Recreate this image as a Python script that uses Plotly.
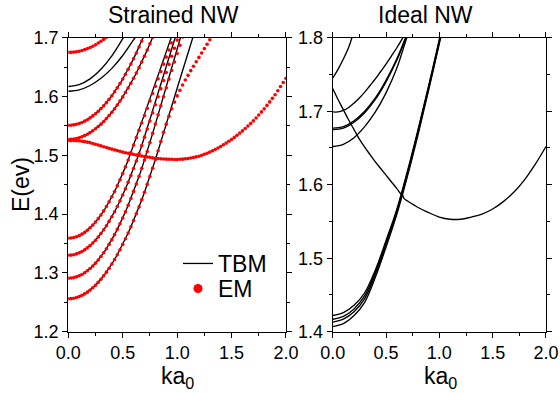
import plotly.graph_objects as go

# ---------------- data: Strained NW (left panel) ----------------
# common k grid for the EM (effective-mass) samples
K_EM = [0.0, 0.025, 0.05, 0.075, 0.1, 0.125, 0.15, 0.175, 0.2, 0.225,
        0.25, 0.275, 0.3, 0.325, 0.35, 0.375, 0.4, 0.425, 0.45, 0.475,
        0.5, 0.525, 0.55, 0.575, 0.6, 0.625, 0.65, 0.675, 0.7, 0.725,
        0.75, 0.775, 0.8, 0.825, 0.85, 0.875, 0.9, 0.925, 0.95, 0.975,
        1.0, 1.025, 1.05, 1.075, 1.1, 1.125, 1.15, 1.175, 1.2, 1.225,
        1.25, 1.275, 1.3, 1.325, 1.35, 1.375, 1.4, 1.425, 1.45, 1.475,
        1.5, 1.525, 1.55, 1.575, 1.6, 1.625, 1.65, 1.675, 1.7, 1.725,
        1.75, 1.775, 1.8, 1.825, 1.85, 1.875, 1.9, 1.925, 1.95, 1.975, 2.0]

E_A1_EM = [1.2560, 1.2562, 1.2569, 1.2581, 1.2597, 1.2618, 1.2643, 1.2673, 1.2708, 1.2747,
           1.2791, 1.2840, 1.2893, 1.2951, 1.3013, 1.3080, 1.3152, 1.3228, 1.3309, 1.3395,
           1.3485, 1.3580, 1.3679, 1.3783, 1.3892, 1.4005, 1.4123, 1.4246, 1.4373, 1.4505,
           1.4641, 1.4782, 1.4928, 1.5078, 1.5233, 1.5393, 1.5530, 1.5665, 1.5790, 1.5905,
           1.6010, 1.6105, 1.6195, 1.6280, 1.6360, 1.6440, 1.6515, 1.6590, 1.6665, 1.6740,
           1.6815, 1.6890, 1.6965, 1.7040]
E_A2_EM = [1.2910, 1.2913, 1.2920, 1.2933, 1.2951, 1.2974, 1.3002, 1.3036, 1.3074, 1.3118,
           1.3166, 1.3220, 1.3279, 1.3343, 1.3412, 1.3487, 1.3566, 1.3651, 1.3740, 1.3835,
           1.3935, 1.4040, 1.4150, 1.4266, 1.4386, 1.4512, 1.4642, 1.4778, 1.4919, 1.5065,
           1.5216, 1.5373, 1.5531, 1.5688, 1.5843, 1.5996, 1.6147, 1.6296, 1.6443, 1.6588,
           1.6731, 1.6872, 1.7011]
E_A3_EM = [1.3300, 1.3303, 1.3310, 1.3323, 1.3341, 1.3364, 1.3392, 1.3426, 1.3464, 1.3508,
           1.3556, 1.3610, 1.3669, 1.3733, 1.3802, 1.3877, 1.3956, 1.4041, 1.4130, 1.4225,
           1.4325, 1.4430, 1.4540, 1.4656, 1.4776, 1.4902, 1.5032, 1.5168, 1.5309, 1.5447,
           1.5584, 1.5722, 1.5859, 1.5997, 1.6134, 1.6272, 1.6409, 1.6547, 1.6684, 1.6822,
           1.6959, 1.7097]
E_A4_EM = [1.3590, 1.3593, 1.3601, 1.3615, 1.3634, 1.3659, 1.3689, 1.3725, 1.3766, 1.3813,
           1.3865, 1.3923, 1.3986, 1.4055, 1.4129, 1.4209, 1.4294, 1.4385, 1.4481, 1.4583,
           1.4690, 1.4803, 1.4921, 1.5045, 1.5174, 1.5300, 1.5425, 1.5550, 1.5675, 1.5800,
           1.5925, 1.6050, 1.6175, 1.6300, 1.6425, 1.6550, 1.6670, 1.6790, 1.6910, 1.7030]
E_B1_EM = [1.5510, 1.5512, 1.5518, 1.5528, 1.5542, 1.5559, 1.5581, 1.5606, 1.5636, 1.5670,
           1.5707, 1.5748, 1.5794, 1.5843, 1.5896, 1.5953, 1.6014, 1.6079, 1.6148, 1.6221,
           1.6298, 1.6378, 1.6463, 1.6552, 1.6644, 1.6741, 1.6841, 1.6945, 1.7054]
E_B2_EM = [1.5270, 1.5272, 1.5277, 1.5286, 1.5299, 1.5315, 1.5335, 1.5359, 1.5386, 1.5416,
           1.5451, 1.5489, 1.5530, 1.5575, 1.5624, 1.5676, 1.5732, 1.5792, 1.5855, 1.5922,
           1.5993, 1.6067, 1.6144, 1.6226, 1.6310, 1.6399, 1.6491, 1.6587, 1.6686, 1.6789,
           1.6896, 1.7006]
E_C_EM = [1.5250, 1.5250, 1.5250, 1.5250, 1.5247, 1.5240, 1.5232, 1.5224, 1.5215, 1.5202,
          1.5188, 1.5174, 1.5160, 1.5146, 1.5132, 1.5118, 1.5105, 1.5092, 1.5080, 1.5067,
          1.5055, 1.5044, 1.5034, 1.5024, 1.5015, 1.5006, 1.4997, 1.4988, 1.4980, 1.4972,
          1.4965, 1.4957, 1.4950, 1.4946, 1.4942, 1.4938, 1.4935, 1.4933, 1.4931, 1.4930,
          1.4930, 1.4932, 1.4935, 1.4940, 1.4945, 1.4953, 1.4963, 1.4974, 1.4985, 1.5001,
          1.5018, 1.5036, 1.5055, 1.5077, 1.5100, 1.5125, 1.5150, 1.5179, 1.5208, 1.5239,
          1.5270, 1.5305, 1.5341, 1.5378, 1.5415, 1.5456, 1.5498, 1.5541, 1.5585, 1.5635,
          1.5686, 1.5738, 1.5790, 1.5849, 1.5908, 1.5969, 1.6030, 1.6099, 1.6169, 1.6239,
          1.6310]
E_D_EM = [1.6750, 1.6751, 1.6755, 1.6762, 1.6771, 1.6783, 1.6797, 1.6814, 1.6834, 1.6856,
          1.6881, 1.6909, 1.6939, 1.6972, 1.7007]

# TBM (tight-binding) lines: shared with EM at low energy, own upper tails
A1_TBM_SHARED, K_A1_TBM_TAIL, E_A1_TBM_TAIL = 36, [0.9, 1.0, 1.1, 1.15], [1.554, 1.614, 1.674, 1.704]
A2_TBM_SHARED, K_A2_TBM_TAIL, E_A2_TBM_TAIL = 32, [0.8, 0.9, 1.0, 1.03], [1.553, 1.617, 1.681, 1.700]
A3_TBM_SHARED, K_A3_TBM_TAIL, E_A3_TBM_TAIL = 29, [0.8, 0.9, 1.0], [1.591, 1.651, 1.711]
A4_TBM_SHARED, K_A4_TBM_TAIL, E_A4_TBM_TAIL = 25, [0.7, 0.8, 0.9, 0.95], [1.570, 1.623, 1.676, 1.7025]
K_G1_TBM = [0.0, 0.1, 0.2, 0.3, 0.4, 0.5, 0.6, 0.62]
E_G1_TBM = [1.609, 1.6114, 1.6187, 1.6309, 1.6479, 1.6698, 1.6965, 1.7024]
K_G2_TBM = [0.0, 0.1, 0.2, 0.3, 0.4, 0.5, 0.52]
E_G2_TBM = [1.617, 1.6203, 1.630, 1.6463, 1.669, 1.6983, 1.705]

# ---------------- data: Ideal NW (right panel), TBM only ----------------
K_R = [0.0, 0.1, 0.2, 0.3, 0.4, 0.5, 0.6, 0.7, 0.8, 0.9, 1.0, 1.02]
E_R1 = [1.407, 1.411, 1.422, 1.440, 1.474, 1.515, 1.559, 1.611, 1.668, 1.729, 1.792, 1.805]
E_R2 = [1.413, 1.417, 1.427, 1.445, 1.478, 1.519, 1.562, 1.614, 1.671, 1.731, 1.794, 1.807]
E_R3 = [1.417, 1.421, 1.431, 1.449, 1.481, 1.521, 1.564, 1.616, 1.673, 1.733, 1.796, 1.809]
E_R4 = [1.422, 1.426, 1.436, 1.453, 1.484, 1.524, 1.566, 1.618, 1.675, 1.735, 1.798, 1.811]
K_S = [0.0, 0.05, 0.1, 0.15, 0.2, 0.25, 0.3, 0.35, 0.4, 0.45, 0.5, 0.55, 0.6, 0.63, 0.645]
E_S = [1.731, 1.716, 1.702, 1.688, 1.675, 1.662, 1.651, 1.641, 1.631, 1.622, 1.613, 1.604, 1.595, 1.589, 1.587]
K_T = [0.65, 0.67, 0.7, 0.8, 0.9, 1.0, 1.1, 1.2, 1.3, 1.4, 1.5, 1.6, 1.7, 1.8, 1.9, 2.0]
E_T = [1.589, 1.581, 1.578, 1.569, 1.562, 1.556, 1.553, 1.553, 1.556, 1.560, 1.567, 1.577, 1.590, 1.607, 1.628, 1.652]
K_U1 = [0.0, 0.1, 0.2, 0.3, 0.4, 0.5, 0.6, 0.69, 0.7]
E_U1 = [1.652, 1.655, 1.664, 1.679, 1.699, 1.725, 1.758, 1.798, 1.802]
K_U2 = [0.0, 0.1, 0.2, 0.3, 0.4, 0.5, 0.6, 0.68, 0.69]
E_U2a = [1.675, 1.677, 1.685, 1.698, 1.716, 1.740, 1.769, 1.797, 1.801]
E_U2b = [1.677, 1.679, 1.687, 1.700, 1.718, 1.742, 1.771, 1.799, 1.803]
K_U3 = [0.0, 0.05, 0.1, 0.15, 0.2, 0.25, 0.3, 0.35, 0.4, 0.45, 0.5, 0.55, 0.6, 0.65, 0.66]
E_U3 = [1.699, 1.699, 1.701, 1.705, 1.711, 1.718, 1.726, 1.735, 1.744, 1.754, 1.764, 1.775, 1.786, 1.798, 1.801]
K_V = [0.0, 0.05, 0.1, 0.15, 0.18]
E_V = [1.745, 1.757, 1.771, 1.787, 1.800]

# ---------------- figure ----------------
FONT = "Liberation Sans, Arial, sans-serif"
RED = "#ff0000"
fig = go.Figure()

def tbm(k, e, xa="x", ya="y", shape="linear"):
    fig.add_trace(go.Scatter(x=k, y=e, mode="lines", xaxis=xa, yaxis=ya,
                             line=dict(color="black", width=1.35, shape=shape),
                             showlegend=False, hoverinfo="skip"))

# left panel TBM
for e_em, n, kt, et in [(E_A1_EM, A1_TBM_SHARED, K_A1_TBM_TAIL, E_A1_TBM_TAIL),
                        (E_A2_EM, A2_TBM_SHARED, K_A2_TBM_TAIL, E_A2_TBM_TAIL),
                        (E_A3_EM, A3_TBM_SHARED, K_A3_TBM_TAIL, E_A3_TBM_TAIL),
                        (E_A4_EM, A4_TBM_SHARED, K_A4_TBM_TAIL, E_A4_TBM_TAIL)]:
    tbm(K_EM[:n] + kt, e_em[:n] + et)
tbm(K_EM[:len(E_B1_EM)], E_B1_EM)
tbm(K_EM[:len(E_B2_EM)], E_B2_EM)
tbm(K_G1_TBM, E_G1_TBM, shape="spline")
tbm(K_G2_TBM, E_G2_TBM, shape="spline")

# left panel EM
for e_em in [E_A1_EM, E_A2_EM, E_A3_EM, E_A4_EM, E_B1_EM, E_B2_EM, E_C_EM, E_D_EM]:
    fig.add_trace(go.Scatter(x=K_EM[:len(e_em)], y=e_em, mode="markers",
                             marker=dict(color=RED, size=3.6, line=dict(width=0)),
                             showlegend=False, hoverinfo="skip"))

# right panel TBM
for e in [E_R1, E_R2, E_R3, E_R4]:
    tbm(K_R, e, "x2", "y2", "spline")
tbm(K_S, E_S, "x2", "y2", "spline")
tbm(K_T, E_T, "x2", "y2", "spline")
tbm(K_U1, E_U1, "x2", "y2", "spline")
tbm(K_U2, E_U2a, "x2", "y2", "spline")
tbm(K_U2, E_U2b, "x2", "y2", "spline")
tbm(K_U3, E_U3, "x2", "y2", "spline")
tbm(K_V, E_V, "x2", "y2", "spline")

# legend entries (one legend box per entry, so each can be placed)
fig.add_trace(go.Scatter(x=[None], y=[None], mode="lines", name="TBM", legend="legend",
                         line=dict(color="black", width=1.3)))
fig.add_trace(go.Scatter(x=[None], y=[None], mode="markers", name="EM", legend="legend2",
                         marker=dict(color=RED, size=9, line=dict(width=0))))

def axis(rng, dtick, mdtick, domain, anchor):
    return dict(range=rng, dtick=dtick, tick0=rng[0], domain=domain, anchor=anchor,
                automargin=False,
                showline=True, linecolor="black", linewidth=1.3, mirror="ticks",
                ticks="outside", ticklen=5, tickwidth=1.3, tickcolor="black",
                showgrid=False, zeroline=False, tickformat=".1f",
                tickfont=dict(family=FONT, size=18, color="black"),
                minor=dict(dtick=mdtick, ticks="outside", ticklen=3, tickwidth=1.3,
                           tickcolor="black", showgrid=False))

LEG = dict(xanchor="left", yanchor="top", bgcolor="rgba(0,0,0,0)",
           font=dict(family=FONT, size=23, color="black"))
YDOM = [0.1581, 0.9043]
fig.update_layout(
    width=560, height=394, margin=dict(l=0, r=0, t=0, b=0, autoexpand=False),
    paper_bgcolor="white", plot_bgcolor="white",
    xaxis=axis([0, 2], 0.5, 0.25, [0.1220, 0.5107], "y"),
    yaxis=axis([1.2, 1.7], 0.1, 0.05, YDOM, "x"),
    xaxis2=axis([0, 2], 0.5, 0.25, [0.5941, 0.9750], "y2"),
    yaxis2=axis([1.4, 1.8], 0.1, 0.05, YDOM, "x2"),
    showlegend=True,
    legend=dict(x=178 / 560, y=1 - 242 / 394, **LEG),
    legend2=dict(x=178 / 560, y=1 - 267 / 394, **LEG),
    annotations=[
        dict(text="Strained NW", x=173 / 560, y=1 - 15 / 394, xref="paper", yref="paper",
             showarrow=False, xanchor="center", yanchor="middle",
             font=dict(family=FONT, size=23, color="black")),
        dict(text="Ideal NW", x=425 / 560, y=1 - 15 / 394, xref="paper", yref="paper",
             showarrow=False, xanchor="center", yanchor="middle",
             font=dict(family=FONT, size=23, color="black")),
        dict(text="ka<sub>0</sub>", x=177 / 560, y=1 - 377 / 394, xref="paper", yref="paper",
             showarrow=False, xanchor="center", yanchor="middle",
             font=dict(family=FONT, size=23, color="black")),
        dict(text="ka<sub>0</sub>", x=440 / 560, y=1 - 377 / 394, xref="paper", yref="paper",
             showarrow=False, xanchor="center", yanchor="middle",
             font=dict(family=FONT, size=23, color="black")),
        dict(text="E(ev)", x=21 / 560, y=1 - 185 / 394, xref="paper", yref="paper",
             showarrow=False, xanchor="center", yanchor="middle", textangle=-90,
             font=dict(family=FONT, size=23, color="black")),
    ],
)

fig.write_html("out.html")
